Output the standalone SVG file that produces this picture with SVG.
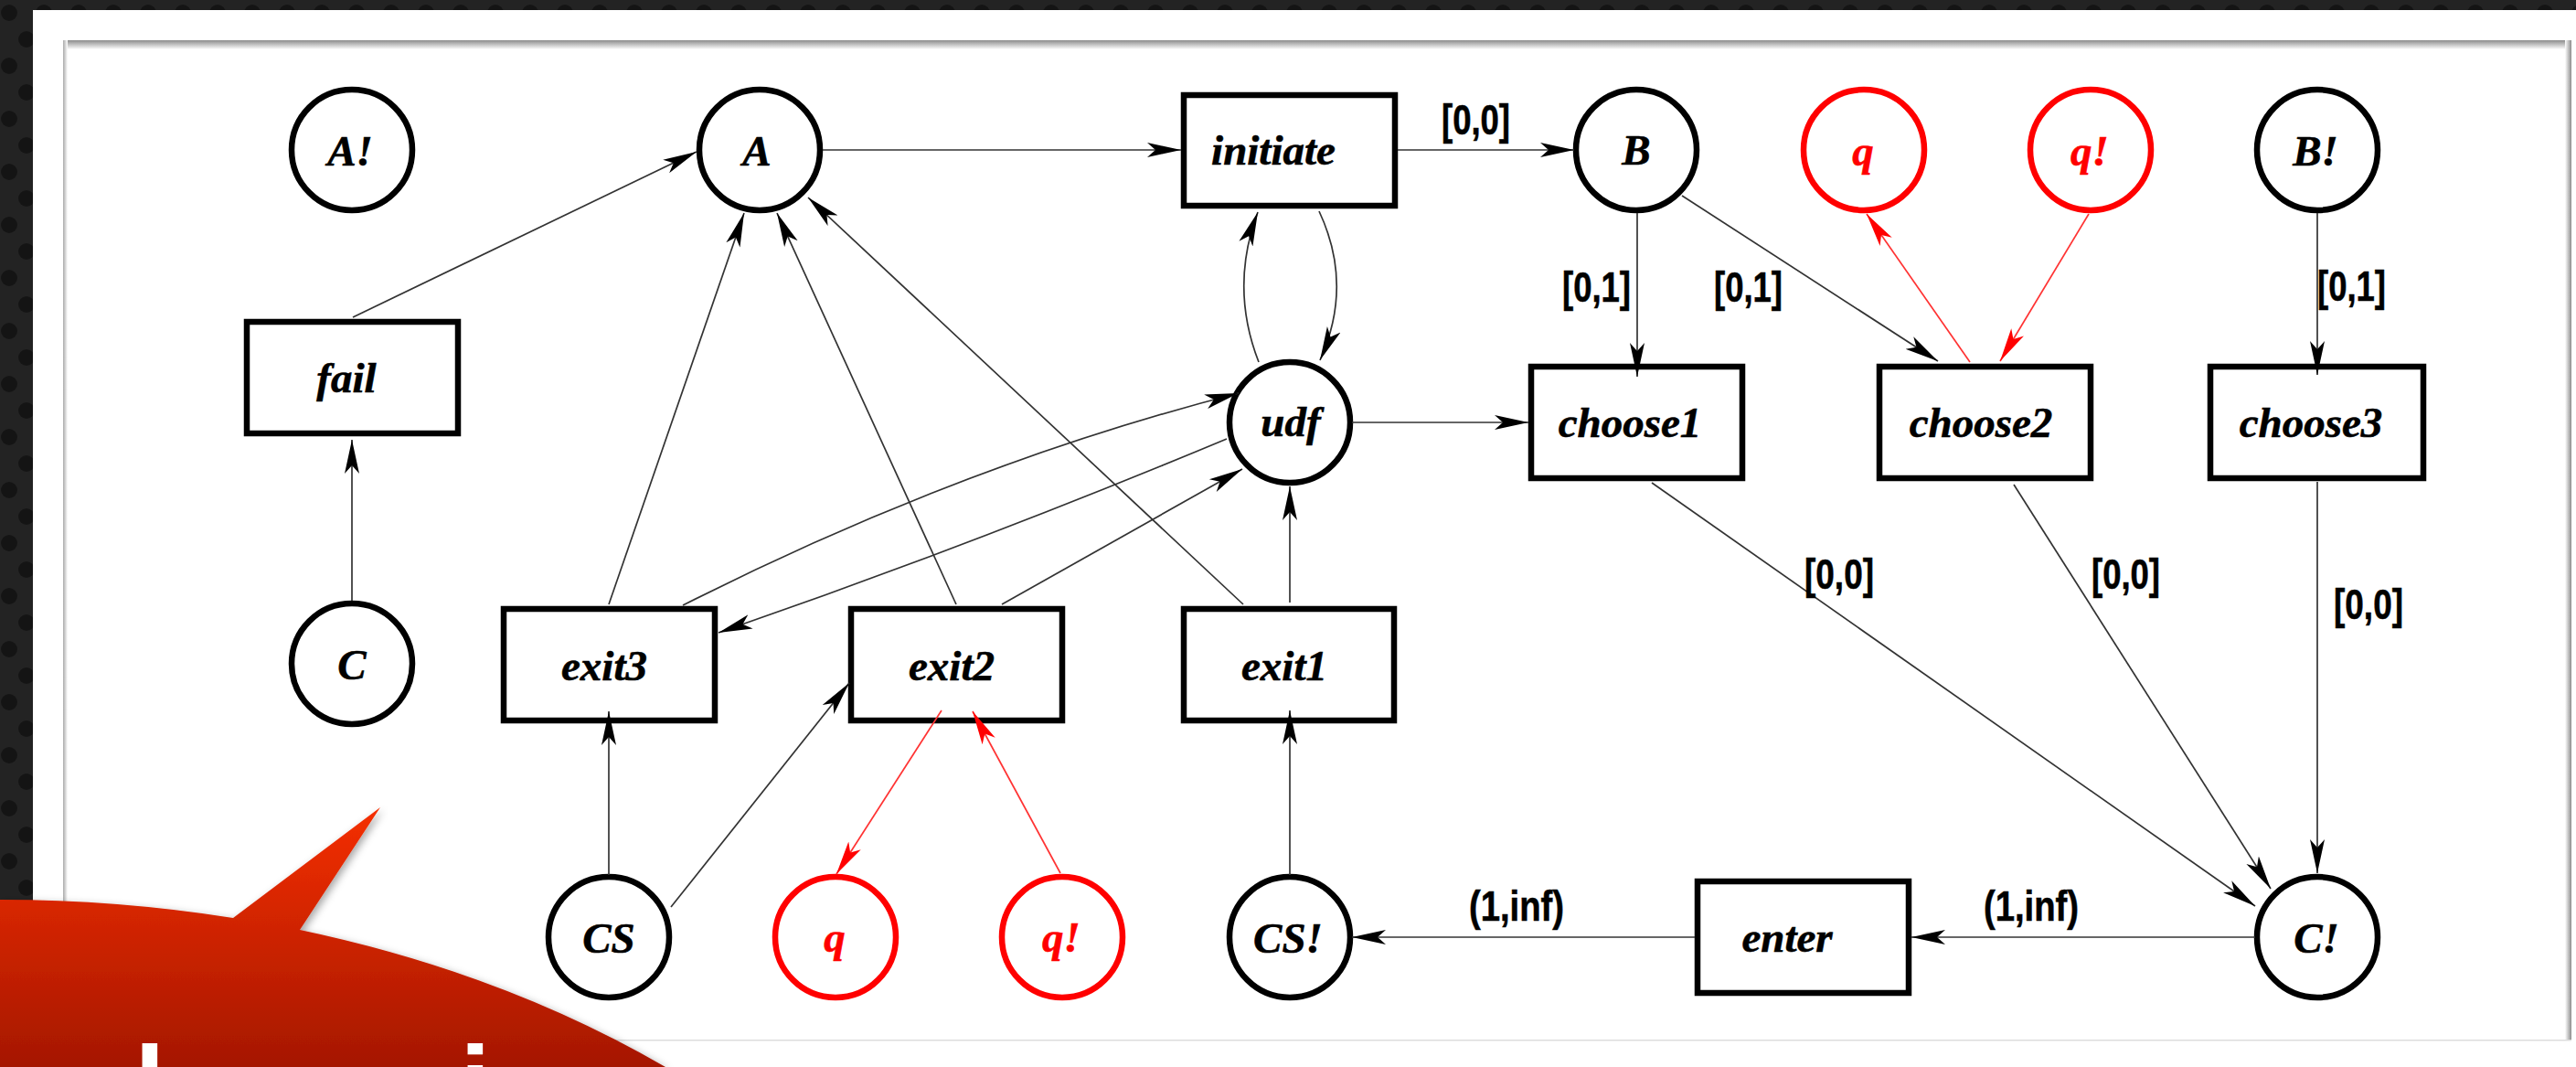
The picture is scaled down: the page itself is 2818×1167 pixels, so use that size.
<svg xmlns="http://www.w3.org/2000/svg" width="2818" height="1167" viewBox="0 0 2818 1167">
<style>
.n{fill:#fff;stroke:#000;stroke-width:6.5}
.r{fill:#fff;stroke:#f00;stroke-width:6.5}
.t{font-family:"Liberation Serif","Times New Roman",serif;font-weight:bold;font-style:italic;font-size:47px;text-anchor:middle;fill:#000;stroke:#000;stroke-width:.6}
.tr{fill:#f00;stroke:#f00}
.l{font-family:"Liberation Sans",Arial,sans-serif;font-weight:bold;font-size:47px;fill:#000;stroke:#000;stroke-width:.6}
.c{fill:none;stroke:#333;stroke-width:1.7;marker-end:url(#ah)}
.cr{fill:none;stroke:#f33;stroke-width:1.7;marker-end:url(#ahr)}
.w{font-family:"Liberation Sans",Arial,sans-serif;font-weight:bold;font-size:120px;text-anchor:middle;fill:#fff}
</style>
<defs>
<marker id="ah" markerUnits="userSpaceOnUse" markerWidth="40" markerHeight="20" viewBox="0 0 40 20" refX="37" refY="10" orient="auto"><path d="M37 10L0 2L9 10L0 18Z" fill="#000"/></marker>
<marker id="ahr" markerUnits="userSpaceOnUse" markerWidth="40" markerHeight="20" viewBox="0 0 40 20" refX="37" refY="10" orient="auto"><path d="M37 10L0 2L9 10L0 18Z" fill="#f00"/></marker>
<pattern id="dots" patternUnits="userSpaceOnUse" width="38" height="58"><rect width="38" height="58" fill="#232323"/><circle cx="10" cy="14" r="9" fill="#141414"/><circle cx="29" cy="43" r="9" fill="#141414"/></pattern>
<linearGradient id="red" gradientUnits="userSpaceOnUse" x1="0" y1="883" x2="0" y2="1167"><stop offset="0" stop-color="#f52f00"/><stop offset="1" stop-color="#a51700"/></linearGradient>
<linearGradient id="st" x1="0" y1="0" x2="0" y2="1"><stop offset="0" stop-color="#8c8c8c"/><stop offset="1" stop-color="#fff"/></linearGradient>
<linearGradient id="sr" x1="0" y1="0" x2="1" y2="0"><stop offset="0" stop-color="#fff"/><stop offset="1" stop-color="#8c8c8c"/></linearGradient>
<linearGradient id="sl" x1="0" y1="0" x2="1" y2="0"><stop offset="0" stop-color="#aaa"/><stop offset="1" stop-color="#fff"/></linearGradient>
<filter id="sh" x="-5%" y="-5%" width="110%" height="110%"><feDropShadow dx="3" dy="3" stdDeviation="4" flood-color="#000" flood-opacity=".35"/></filter>
</defs>

<g id="background">
<rect width="2818" height="1167" fill="url(#dots)"/>
<rect x="36" y="11" width="2782" height="1156" fill="#fff"/>
<rect x="69" y="44" width="2744" height="1094" fill="#fff"/>
<rect x="69" y="44" width="2744" height="10" fill="url(#st)"/>
<rect x="69" y="44" width="5" height="1094" fill="url(#sl)"/>
<rect x="2806" y="44" width="7" height="1094" fill="url(#sr)"/>
<rect x="69" y="1137" width="2744" height="1.5" fill="#ddd"/>
</g>

<g id="nodes">
<g id="n-Abang"><circle class="n" cx="385" cy="164" r="66"/><text class="t" x="383" y="181">A!</text></g>
<g id="n-A"><circle class="n" cx="831" cy="164" r="66"/><text class="t" x="828" y="181">A</text></g>
<g id="n-initiate"><rect class="n" x="1295" y="104" width="231" height="121"/><text class="t" x="1393" y="180">initiate</text></g>
<g id="n-B"><circle class="n" cx="1790" cy="164" r="66"/><text class="t" x="1790" y="180">B</text></g>
<g id="n-q1"><circle class="r" cx="2039" cy="164" r="66"/><text class="t tr" x="2038" y="181">q</text></g>
<g id="n-qbang1"><circle class="r" cx="2287" cy="164" r="66"/><text class="t tr" x="2286" y="181">q!</text></g>
<g id="n-Bbang"><circle class="n" cx="2535" cy="164" r="66"/><text class="t" x="2533" y="181">B!</text></g>
<g id="n-fail"><rect class="n" x="270" y="352" width="231" height="122"/><text class="t" x="379" y="429">fail</text></g>
<g id="n-udf"><circle class="n" cx="1411" cy="462" r="66"/><text class="t" x="1412" y="477">udf</text></g>
<g id="n-choose1"><rect class="n" x="1675" y="401" width="231" height="122"/><text class="t" x="1783" y="478">choose1</text></g>
<g id="n-choose2"><rect class="n" x="2056" y="401" width="231" height="122"/><text class="t" x="2167" y="478">choose2</text></g>
<g id="n-choose3"><rect class="n" x="2418" y="401" width="233" height="122"/><text class="t" x="2528" y="478">choose3</text></g>
<g id="n-C"><circle class="n" cx="385" cy="726" r="66"/><text class="t" x="385" y="743">C</text></g>
<g id="n-exit3"><rect class="n" x="551" y="666" width="231" height="122"/><text class="t" x="661" y="744">exit3</text></g>
<g id="n-exit2"><rect class="n" x="931" y="666" width="231" height="122"/><text class="t" x="1041" y="744">exit2</text></g>
<g id="n-exit1"><rect class="n" x="1295" y="666" width="230" height="122"/><text class="t" x="1405" y="744">exit1</text></g>
<g id="n-CS"><circle class="n" cx="666" cy="1025" r="66"/><text class="t" x="666" y="1042">CS</text></g>
<g id="n-q2"><circle class="r" cx="914" cy="1025" r="66"/><text class="t tr" x="913" y="1041">q</text></g>
<g id="n-qbang2"><circle class="r" cx="1162" cy="1025" r="66"/><text class="t tr" x="1161" y="1041">q!</text></g>
<g id="n-CSbang"><circle class="n" cx="1411" cy="1025" r="66"/><text class="t" x="1409" y="1042">CS!</text></g>
<g id="n-enter"><rect class="n" x="1857" y="964" width="231" height="122"/><text class="t" x="1955" y="1041">enter</text></g>
<g id="n-Cbang"><circle class="n" cx="2535" cy="1025" r="66"/><text class="t" x="2534" y="1042">C!</text></g>
</g>

<g id="connectors">
<path class="c" d="M900 164H1292"/>
<path class="c" d="M1529 164H1722"/>
<path class="c" d="M386 347L762 166"/>
<path class="c" d="M385 657V481"/>
<path class="c" d="M666 661L814 233"/>
<path class="c" d="M1046 661L850 233"/>
<path class="c" d="M1360 661L884 216"/>
<path class="c" d="M1411 659V532"/>
<path class="c" d="M747 662Q1051 508 1355 430"/>
<path class="c" d="M1342 480Q1064 596 786 692"/>
<path class="c" d="M1096 661L1359 513"/>
<path class="c" d="M1377 396Q1345 314 1376 232"/>
<path class="c" d="M1443 231Q1481 312 1444 394"/>
<path class="c" d="M1479 462H1672"/>
<path class="c" d="M666 957V778"/>
<path class="c" d="M734 992L929 747"/>
<path class="c" d="M1411 957V777"/>
<path class="c" d="M1854 1025H1479"/>
<path class="c" d="M2467 1025H2091"/>
<path class="c" d="M1807 528L2467 991"/>
<path class="c" d="M2203 530L2484 972"/>
<path class="c" d="M2535 527V955"/>
<path class="c" d="M1791 233V412"/>
<path class="c" d="M1840 214L2120 395"/>
<path class="c" d="M2535 233V410"/>
<path class="cr" d="M2155 396L2042 234"/>
<path class="cr" d="M2285 234L2188 395"/>
<path class="cr" d="M1030 777L915 956"/>
<path class="cr" d="M1160 955L1064 778"/>
</g>

<g id="labels">
<text class="l" x="1577" y="147" textLength="75" lengthAdjust="spacingAndGlyphs">[0,0]</text>
<text class="l" x="1709" y="330" textLength="75" lengthAdjust="spacingAndGlyphs">[0,1]</text>
<text class="l" x="1875" y="330" textLength="75" lengthAdjust="spacingAndGlyphs">[0,1]</text>
<text class="l" x="2535" y="329" textLength="75" lengthAdjust="spacingAndGlyphs">[0,1]</text>
<text class="l" x="1974" y="644" textLength="76" lengthAdjust="spacingAndGlyphs">[0,0]</text>
<text class="l" x="2288" y="644" textLength="75" lengthAdjust="spacingAndGlyphs">[0,0]</text>
<text class="l" x="2553" y="677" textLength="76" lengthAdjust="spacingAndGlyphs">[0,0]</text>
<text class="l" x="1607" y="1007" textLength="104" lengthAdjust="spacingAndGlyphs">(1,inf)</text>
<text class="l" x="2170" y="1007" textLength="104" lengthAdjust="spacingAndGlyphs">(1,inf)</text>
</g>

<g id="callout">
<path d="M0 984A1140 790 0 0 1 255 1004L416 883L328 1017A1140 790 0 0 1 728 1167H0Z" fill="url(#red)" filter="url(#sh)"/>
<text class="w" x="164" y="1229">l</text>
<text class="w" x="520" y="1229">i</text>
</g>
</svg>
